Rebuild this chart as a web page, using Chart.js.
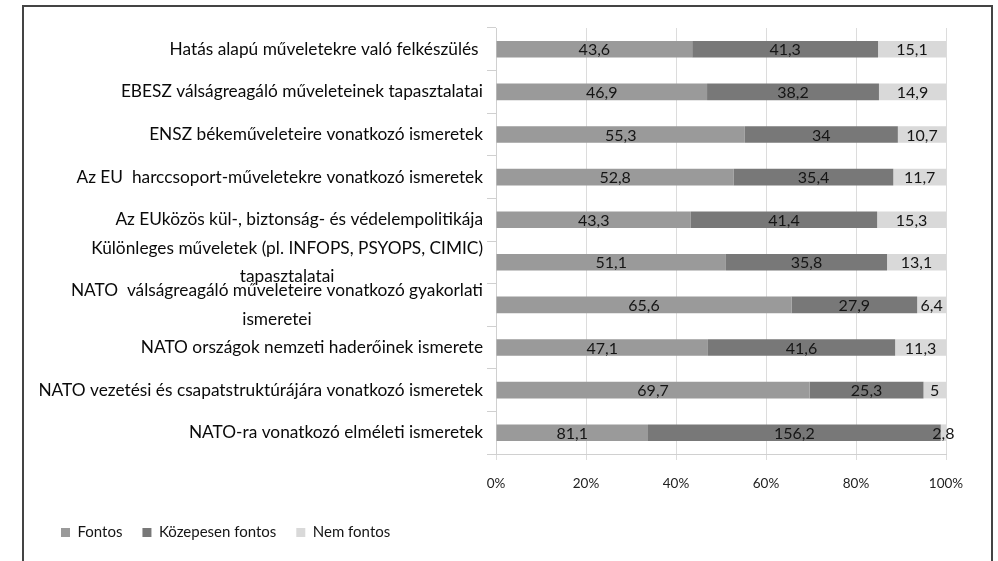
<!DOCTYPE html>
<html>
<head>
<meta charset="utf-8">
<script src="https://cdn.jsdelivr.net/npm/chart.js@4.4.1/dist/chart.umd.min.js"></script>
<style>
  html, body { margin: 0; padding: 0; background: #ffffff; }
  #wrap { position: relative; width: 998px; height: 561px; overflow: hidden; }
  #c { position: absolute; left: 0; top: 0; }
  #frame { position: absolute; left: 22px; top: 5px; width: 971px; height: 600px;
           box-sizing: border-box; border: 2px solid #444; border-bottom: none; pointer-events: none; }
</style>
</head>
<body>
<div id="wrap">
  <canvas id="c" width="998" height="561"></canvas>
  <div id="frame"></div>
</div>
<script>
// ---- data ----
const categories = [
  ["Hatás alapú műveletekre való felkészülés "],
  ["EBESZ válságreagáló műveleteinek tapasztalatai"],
  ["ENSZ békeműveleteire vonatkozó ismeretek"],
  ["Az EU  harccsoport-műveletekre vonatkozó ismeretek"],
  ["Az EUközös kül-, biztonság- és védelempolitikája"],
  ["Különleges műveletek (pl. INFOPS, PSYOPS, CIMIC)", "tapasztalatai"],
  ["NATO  válságreagáló műveleteire vonatkozó gyakorlati", "ismeretei"],
  ["NATO országok nemzeti haderőinek ismerete"],
  ["NATO vezetési és csapatstruktúrájára vonatkozó ismeretek"],
  ["NATO-ra vonatkozó elméleti ismeretek"]
];
const seriesNames = ["Fontos", "Közepesen fontos", "Nem fontos"];
const fontos      = [43.6, 46.9, 55.3, 52.8, 43.3, 51.1, 65.6, 47.1, 69.7, 81.1];
const kozepesen   = [41.3, 38.2, 34,   35.4, 41.4, 35.8, 27.9, 41.6, 25.3, 156.2];
const nemFontos   = [15.1, 14.9, 10.7, 11.7, 15.3, 13.1, 6.4,  11.3, 5,    2.8];
const xTicks = [0, 20, 40, 60, 80, 100];

// ---- 100% stacked: each bar is shown as share of its row total ----
const rawSeries = [fontos, kozepesen, nemFontos];
const totals = fontos.map((v, i) => v + kozepesen[i] + nemFontos[i]);
const share = arr => arr.map((v, i) => v / totals[i] * 100);
const colors = ["#9a9a9a", "#787878", "#d9d9d9"];

const FONT = "Lato, 'Open Sans', sans-serif";

const catLabelPlugin = {
  id: 'catLabels',
  afterDraw(chart) {
    const ys = chart.scales.y;
    const ctx = chart.ctx;
    ctx.save();
    ctx.font = "17.3px " + FONT;
    ctx.fillStyle = "#0a0a0a";
    ctx.textAlign = "center";
    ctx.textBaseline = "middle";
    const right = chart.chartArea.left - 13;
    const lh = 28.5;
    categories.forEach((lines, i) => {
      const yc = ys.getPixelForValue(i);
      const w = Math.max(...lines.map(l => ctx.measureText(l).width));
      const cx = right - w / 2;
      const y0 = yc - (lines.length - 1) * lh / 2;
      lines.forEach((l, k) => ctx.fillText(l, cx, y0 + k * lh));
    });
    ctx.restore();
  }
};

const valueLabelPlugin = {
  id: 'valueLabels',
  afterDatasetsDraw(chart) {
    const ctx = chart.ctx;
    ctx.save();
    ctx.font = "16px " + FONT;
    ctx.fillStyle = "#151515";
    ctx.textAlign = "center";
    ctx.textBaseline = "middle";
    chart.data.datasets.forEach((ds, di) => {
      const meta = chart.getDatasetMeta(di);
      meta.data.forEach((bar, i) => {
        const txt = String(rawSeries[di][i]).replace('.', ',');
        ctx.fillText(txt, (bar.x + bar.base) / 2, bar.y + 1);
      });
    });
    ctx.restore();
  }
};

new Chart(document.getElementById('c'), {
  type: 'bar',
  data: {
    labels: categories.map(l => l.join(' ')),
    datasets: seriesNames.map((name, k) => ({
      label: name,
      data: share(rawSeries[k]),
      backgroundColor: colors[k],
      borderWidth: 0,
      barPercentage: 0.39,
      categoryPercentage: 1
    }))
  },
  options: {
    indexAxis: 'y',
    responsive: false,
    animation: false,
    devicePixelRatio: 1,
    layout: { padding: { left: 41, right: 52, top: 28, bottom: 11 } },
    scales: {
      x: {
        stacked: true,
        min: 0, max: 100,
        afterBuildTicks(scale) { scale.ticks = xTicks.map(v => ({ value: v })); },
        ticks: {
          callback: v => v + '%',
          font: { family: FONT, size: 13.5 },
          color: '#222',
          padding: 16,
          maxRotation: 0
        },
        grid: { color: '#dcdcdc', tickLength: 6, drawTicks: true },
        border: { color: '#d0d0d0' },
        afterFit(scale) { scale.height = 51; }
      },
      y: {
        stacked: true,
        ticks: { display: false },
        grid: { display: true, drawOnChartArea: false, drawTicks: true, tickLength: 9, color: '#d0d0d0', offset: true },
        border: { color: '#d0d0d0' },
        afterFit(scale) { scale.width = 455; }
      }
    },
    plugins: {
      legend: {
        position: 'bottom',
        align: 'start',
        labels: {
          boxWidth: 9, boxHeight: 9, padding: 20,
          font: { family: FONT, size: 15 },
          color: '#151515'
        }
      },
      tooltip: { enabled: false }
    }
  },
  plugins: [catLabelPlugin, valueLabelPlugin]
});
</script>
</body>
</html>
